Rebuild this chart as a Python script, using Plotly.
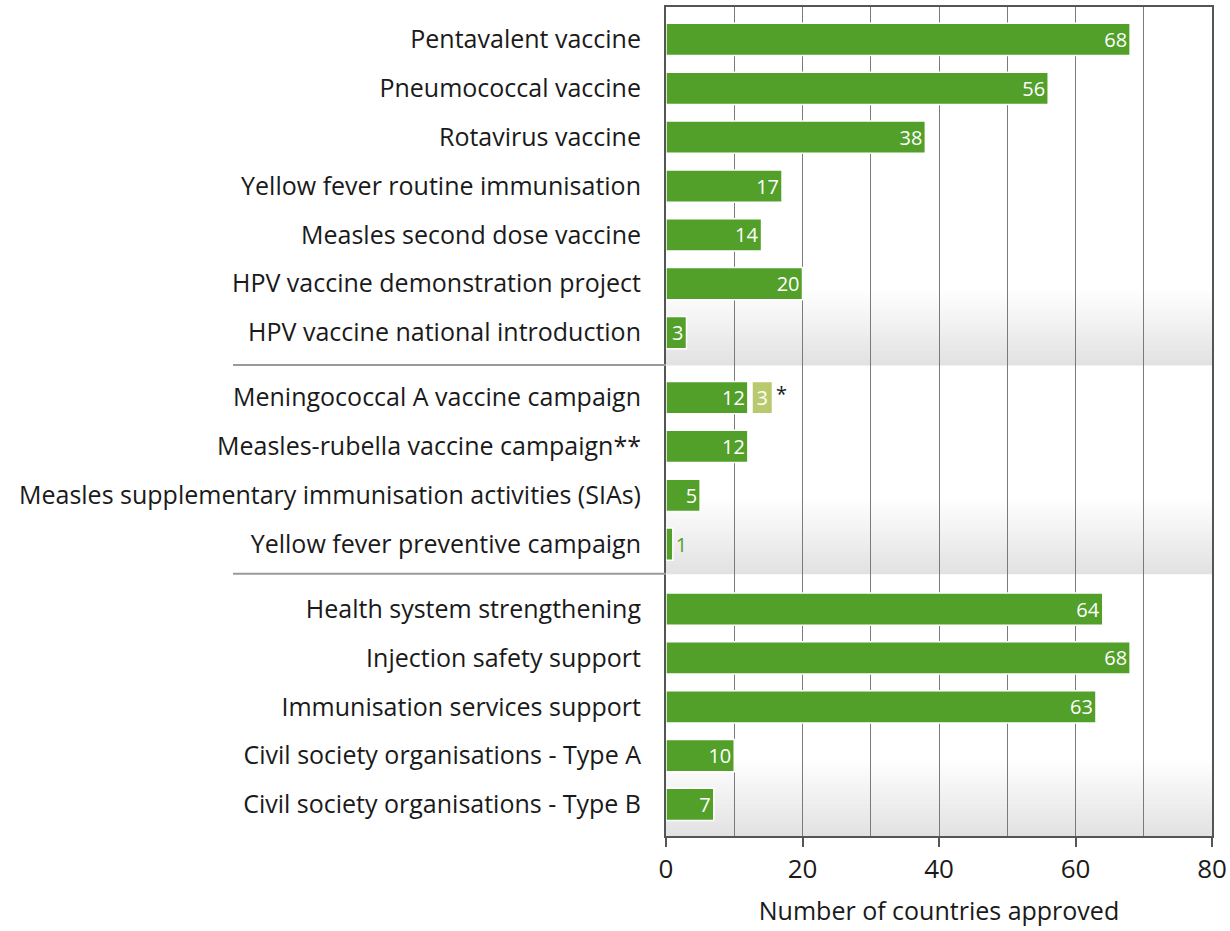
import plotly.graph_objects as go

# ---- data ----
group1 = ["Pentavalent vaccine", "Pneumococcal vaccine", "Rotavirus vaccine",
          "Yellow fever routine immunisation", "Measles second dose vaccine",
          "HPV vaccine demonstration project", "HPV vaccine national introduction"]
values1 = [68, 56, 38, 17, 14, 20, 3]
group2 = ["Meningococcal A vaccine campaign", "Measles-rubella vaccine campaign**",
          "Measles supplementary immunisation activities (SIAs)",
          "Yellow fever preventive campaign"]
values2 = [12, 12, 5, 1]
group3 = ["Health system strengthening", "Injection safety support",
          "Immunisation services support", "Civil society organisations - Type A",
          "Civil society organisations - Type B"]
values3 = [64, 68, 63, 10, 7]
extra_label = "Meningococcal A vaccine campaign"
extra_value = 3
x_ticks = [0, 20, 40, 60, 80]
x_title = "Number of countries approved"

# ---- layout helpers ----
GAP = 0.33
GREEN = "#52a02a"
LIGHT = "#b8c96e"
FONT = "Open Sans"
groups = [(group1, values1), (group2, values2), (group3, values3)]

labels, values, pos = [], [], []
group_ends = []
cur = 0.0
for gi, (labs, vals) in enumerate(groups):
    if gi > 0:
        cur += GAP
    for l, v in zip(labs, vals):
        labels.append(l)
        values.append(v)
        pos.append(cur)
        cur += 1
    group_ends.append(cur - 1)

y_top = -0.665
y_bot = 16.305
separators = [group_ends[0] + (1 + GAP) / 2,
              group_ends[1] + (1 + GAP) / 2 - 0.06]
band_ends = separators + [y_bot]

textpos = ["inside" if v >= 3 else "outside" for v in values]
textcol = ["white" if v >= 3 else GREEN for v in values]

fig = go.Figure()
fig.add_trace(go.Bar(
    y=pos, x=values, orientation="h", width=0.66,
    marker=dict(color=GREEN, line=dict(color="white", width=1.5)),
    text=[str(v) for v in values], textposition=textpos, textangle=0,
    insidetextanchor="end", constraintext="none",
    textfont=dict(family=FONT, size=20, color=textcol),
    cliponaxis=False, hoverinfo="skip",
))
ey = pos[labels.index(extra_label)]
base_extra = values[labels.index(extra_label)] + 0.6
fig.add_trace(go.Bar(
    y=[ey], x=[extra_value], base=[base_extra], orientation="h", width=0.66,
    marker=dict(color=LIGHT, line=dict(color="white", width=1.5)),
    text=[str(extra_value)], textposition="inside", insidetextanchor="middle",
    textangle=0, constraintext="none",
    textfont=dict(family=FONT, size=20, color="white"), hoverinfo="skip",
))
fig.add_annotation(x=base_extra + extra_value, y=ey, text="*", showarrow=False,
                   xanchor="left", xshift=2, yshift=4,
                   font=dict(family=FONT, size=20, color="#1a1a1a"))

shapes = []
# gradient bands
N = 30
GLEN = 1.6
for end in band_ends:
    start = end - GLEN
    for i in range(N):
        t = (i + 0.5) / N
        c = int(round(255 - (255 - 226) * t))
        shapes.append(dict(type="rect", xref="x", yref="y", x0=0, x1=80,
                           y0=start + GLEN * i / N, y1=start + GLEN * (i + 1) / N + 0.01,
                           fillcolor=f"rgb({c},{c},{c})", line=dict(width=0),
                           layer="below"))
for s in separators:
    shapes.append(dict(type="line", xref="paper", yref="y", x0=-0.793, x1=0,
                       y0=s, y1=s, line=dict(color="#9a9a9a", width=2)))

fig.update_layout(
    width=1230, height=931,
    margin=dict(l=666, r=18, t=7, b=95),
    paper_bgcolor="white", plot_bgcolor="white",
    barmode="overlay", showlegend=False, shapes=shapes,
    font=dict(family=FONT, color="#1a1a1a"),
    xaxis=dict(range=[0, 80], tickvals=x_ticks, ticks="outside", ticklen=9,
               tickcolor="#555", tickwidth=1.5, automargin=False,
               showgrid=True, gridcolor="#7a7a7a", gridwidth=1.3,
               minor=dict(dtick=10, showgrid=True, gridcolor="#7a7a7a", gridwidth=1.3),
               showline=True, linecolor="#555", linewidth=2, mirror=True,
               tickfont=dict(size=26, color="#1a1a1a"),
               title=dict(text=x_title, font=dict(size=25, color="#1a1a1a"), standoff=17),
               zeroline=False),
    yaxis=dict(range=[y_bot, y_top], tickvals=pos, ticktext=labels,
               showgrid=False, zeroline=False, ticks="", automargin=False,
               showline=True, linecolor="#555", linewidth=2, mirror=True,
               tickfont=dict(size=25, color="#1a1a1a"), ticklabelstandoff=18),
)

fig.write_html(
    "out.html",
    config={"displayModeBar": False},
    post_script="document.body.style.margin='0';document.body.style.overflow='hidden';",
)
